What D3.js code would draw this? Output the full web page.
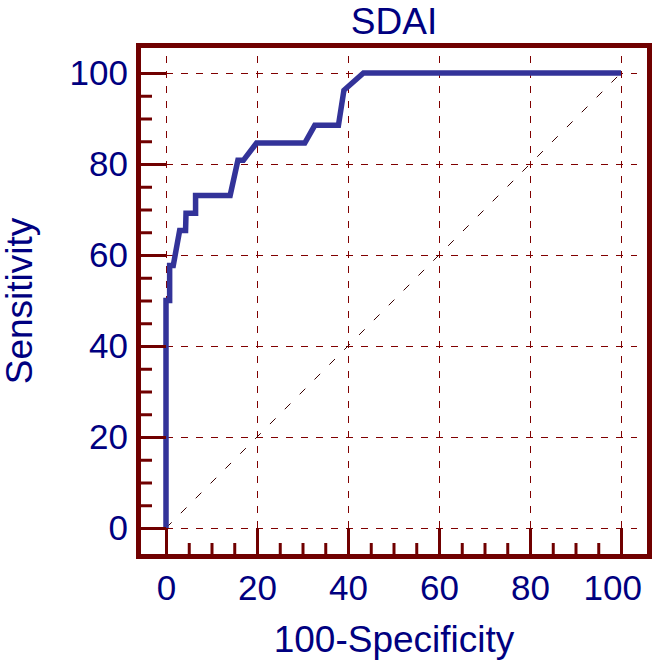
<!DOCTYPE html>
<html>
<head>
<meta charset="utf-8">
<script src="https://cdn.jsdelivr.net/npm/d3@7"></script>
<style>
  body { margin: 0; background: #fff; }
  svg { display: block; }
  text { font-family: "Liberation Sans", Arial, sans-serif; fill: #000080; }
</style>
</head>
<body>
<svg id="chart" width="652" height="662"></svg>
<script>
// ROC curve points (100-Specificity, Sensitivity)
const fpr = [0, 0, 0.8, 0.8, 1.6, 3.0, 4.3, 4.4, 6.5, 6.5, 14.1, 15.8, 17.0, 19.9, 30.5, 32.7, 37.9, 39.1, 43.4, 100];
const sens = [0, 50, 50, 57.7, 57.7, 65.4, 65.4, 69.2, 69.2, 73.1, 73.1, 80.8, 80.8, 84.6, 84.6, 88.5, 88.5, 96.2, 100, 100];

const majorTicks = [0, 20, 40, 60, 80, 100];
const minorTicks = [5, 10, 15, 25, 30, 35, 45, 50, 55, 65, 70, 75, 85, 90, 95];

const title = 'SDAI';
const xTitle = '100-Specificity';
const yTitle = 'Sensitivity';

const maroon = '#700000';
const lineColor = '#333399';

const svg = d3.select('#chart');

const x = d3.scaleLinear().domain([0, 100]).range([166, 621]);
const y = d3.scaleLinear().domain([0, 100]).range([528, 73]);

// frame edges (inner side of the thick border)
const fLeft = 141, fRight = 647, fTop = 48, fBottom = 554;

// grid
const grid = svg.append('g').attr('shape-rendering', 'crispEdges');
grid.selectAll('line.h')
  .data(majorTicks)
  .enter()
  .append('line')
  .attr('x1', x(0))
  .attr('x2', x(103.5))
  .attr('y1', (d) => y(d))
  .attr('y2', (d) => y(d))
  .attr('stroke', '#800000')
  .attr('stroke-width', 1)
  .attr('stroke-dasharray', '7,8');

grid.selectAll('line.v')
  .data(majorTicks)
  .enter()
  .append('line')
  .attr('x1', (d) => x(d))
  .attr('x2', (d) => x(d))
  .attr('y1', y(0))
  .attr('y2', y(104))
  .attr('stroke', '#800000')
  .attr('stroke-width', 1)
  .attr('stroke-dasharray', '7,8');

// diagonal reference
svg.append('line')
  .attr('x1', x(0))
  .attr('y1', y(0))
  .attr('x2', x(100))
  .attr('y2', y(100))
  .attr('stroke', '#3a0000')
  .attr('stroke-width', 1)
  .attr('stroke-dasharray', '8,13');

// ROC curve
const pts = fpr.map((f, i) => [f, sens[i]]);
const line = d3.line()
  .x((d) => x(d[0]))
  .y((d) => y(d[1]));

svg.append('path')
  .datum(pts)
  .attr('d', line)
  .attr('fill', 'none')
  .attr('stroke', lineColor)
  .attr('stroke-width', 5.5)
  .attr('stroke-linejoin', 'miter');

// axes: major ticks with labels
const yAxis = svg.append('g')
  .attr('transform', 'translate(' + x(0) + ',0)')
  .call(d3.axisLeft(y).tickValues(majorTicks).tickSize(x(0) - fLeft).tickPadding(13));

const yMinor = svg.append('g')
  .attr('transform', 'translate(' + (fLeft + 11) + ',0)')
  .call(d3.axisLeft(y).tickValues(minorTicks).tickSize(11).tickFormat(''));

const xAxis = svg.append('g')
  .attr('transform', 'translate(0,' + y(0) + ')')
  .call(d3.axisBottom(x).tickValues(majorTicks).tickSize(fBottom - y(0)).tickPadding(21));

const xMinor = svg.append('g')
  .attr('transform', 'translate(0,' + (fBottom - 11) + ')')
  .call(d3.axisBottom(x).tickValues(minorTicks).tickSize(11).tickFormat(''));

[yAxis, yMinor, xAxis, xMinor].forEach((g) => {
  g.select('.domain').remove();
  g.selectAll('.tick line').attr('stroke', maroon).attr('stroke-width', 3);
  g.selectAll('.tick text')
    .attr('fill', '#000080')
    .style('font-size', '35px')
    .style('font-family', '"Liberation Sans", Arial, sans-serif');
});

// keep the last x label inside the picture
xAxis.selectAll('.tick text').each(function () {
  const b = this.getBBox();
  const m = this.parentNode.transform.baseVal.consolidate().matrix;
  const right = m.e + b.x + b.width;
  if (right > 642) d3.select(this).attr('x', 642 - right);
});

// frame
svg.append('rect')
  .attr('x', (fLeft - 2.5))
  .attr('y', (fTop - 2.5))
  .attr('width', fRight - fLeft + 5)
  .attr('height', fBottom - fTop + 5)
  .attr('fill', 'none')
  .attr('stroke', maroon)
  .attr('stroke-width', 5);

// titles
svg.append('text')
  .attr('x', (fLeft + fRight) / 2)
  .attr('y', 34)
  .attr('text-anchor', 'middle')
  .style('font-size', '37px')
  .text(title);

svg.append('text')
  .attr('x', (fLeft + fRight) / 2)
  .attr('y', 652)
  .attr('text-anchor', 'middle')
  .style('font-size', '37px')
  .text(xTitle);

svg.append('text')
  .attr('transform', 'translate(32,' + (fTop + fBottom) / 2 + ') rotate(-90)')
  .attr('text-anchor', 'middle')
  .style('font-size', '37px')
  .text(yTitle);
</script>
</body>
</html>
